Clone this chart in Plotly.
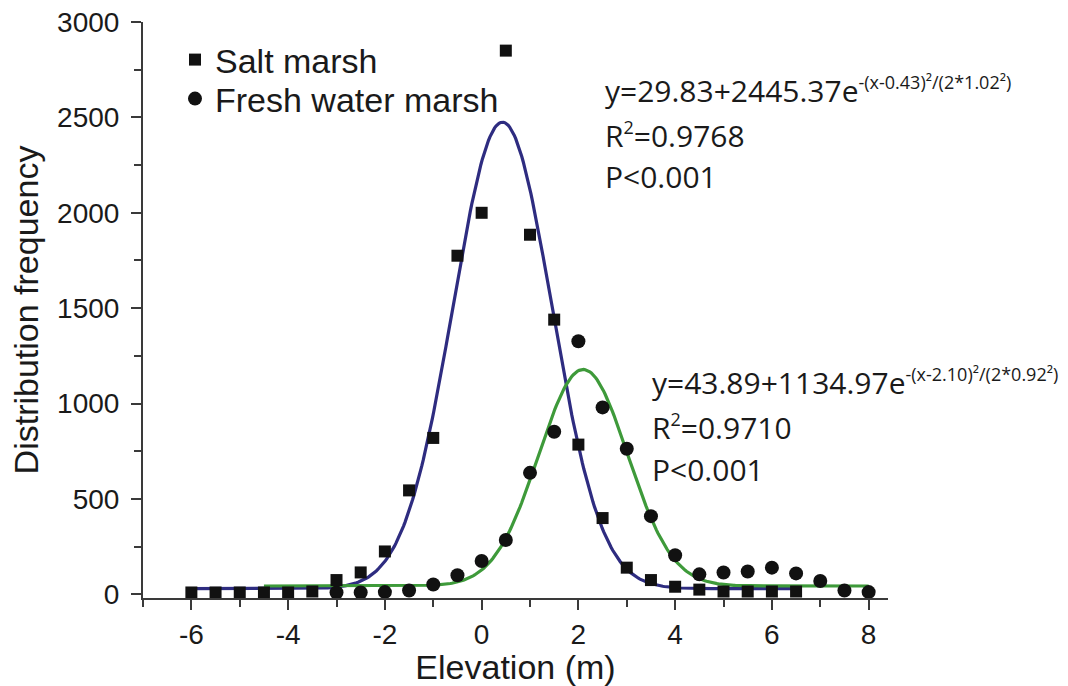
import numpy as np
import plotly.graph_objects as go

# ---- data ----
salt_x = [-6, -5.5, -5, -4.5, -4, -3.5, -3, -2.5, -2, -1.5, -1, -0.5, 0, 0.5, 1, 1.5, 2, 2.5, 3, 3.5, 4, 4.5, 5, 5.5, 6, 6.5]
salt_y = [10, 10, 10, 10, 10, 15, 75, 115, 225, 545, 820, 1775, 2000, 2850, 1885, 1440, 785, 400, 140, 75, 40, 25, 15, 15, 15, 15]

fresh_x = [-3, -2.5, -2, -1.5, -1, -0.5, 0, 0.5, 1, 1.5, 2, 2.5, 3, 3.5, 4, 4.5, 5, 5.5, 6, 6.5, 7, 7.5, 8]
fresh_y = [10, 10, 12, 20, 52, 100, 175, 285, 637, 852, 1327, 980, 763, 410, 205, 105, 115, 120, 140, 110, 70, 20, 12]

# Gaussian fit parameters printed on the chart: y = y0 + A*exp(-(x-xc)^2/(2*w^2))
salt_fit = dict(y0=29.83, A=2445.37, xc=0.43, w=1.02, xmin=-6.0, xmax=6.5)
fresh_fit = dict(y0=43.89, A=1134.97, xc=2.10, w=0.92, xmin=-4.5, xmax=8.0)

x_ticks = [-6, -4, -2, 0, 2, 4, 6, 8]
y_ticks = [0, 500, 1000, 1500, 2000, 2500, 3000]


def fit_curve(p):
    xs = np.linspace(p["xmin"], p["xmax"], 400)
    ys = p["y0"] + p["A"] * np.exp(-(xs - p["xc"]) ** 2 / (2 * p["w"] ** 2))
    return xs, ys


# plot area in pixels
L, R, T, B = 143, 888, 22, 598
W, H = 1068, 686


def px(x):
    return (x - L) / (R - L)


def py(y):
    return (B - y) / (B - T)


fig = go.Figure()

sx, sy = fit_curve(salt_fit)
fx, fy = fit_curve(fresh_fit)
fig.add_trace(go.Scatter(x=sx, y=sy, mode="lines", line=dict(color="#2e2c80", width=3.2),
                         showlegend=False, hoverinfo="skip", cliponaxis=False))
fig.add_trace(go.Scatter(x=fx, y=fy, mode="lines", line=dict(color="#3e9a3a", width=3.2),
                         showlegend=False, hoverinfo="skip", cliponaxis=False))
fig.add_trace(go.Scatter(x=fresh_x, y=fresh_y, mode="markers", name="Fresh water marsh",
                         marker=dict(symbol="circle", size=14, color="#111111"),
                         cliponaxis=False, legend="legend2"))
fig.add_trace(go.Scatter(x=salt_x, y=salt_y, mode="markers", name="Salt marsh",
                         marker=dict(symbol="square", size=12, color="#111111"),
                         cliponaxis=False, legend="legend"))

font_ax = "Liberation Sans, Arial, sans-serif"
font_ann = "Open Sans, sans-serif"

ann = []


def line(text, x, y, size=30):
    ann.append(dict(text=text, x=px(x), y=py(y), xref="paper", yref="paper",
                    xanchor="left", yanchor="middle", showarrow=False,
                    font=dict(family=font_ann, size=size, color="#1a1a1a")))


sup1 = "<sup><span style='font-size:18px'>-(x-0.43)²/(2*1.02²)</span></sup>"
sup2 = "<sup><span style='font-size:18px'>-(x-2.10)²/(2*0.92²)</span></sup>"
r2 = "R<sup><span style='font-size:18px'>2</span></sup>"
line("y=29.83+2445.37e" + sup1, 603, 91)
line(r2 + "=0.9768", 603, 135)
line("P&lt;0.001", 603, 176)
line("y=43.89+1134.97e" + sup2, 650, 382)
line(r2 + "=0.9710", 650, 427)
line("P&lt;0.001", 650, 469)

leg_common = dict(xanchor="left", yanchor="middle",
                  font=dict(family=font_ax, size=34, color="#1a1a1a"),
                  bgcolor="rgba(0,0,0,0)", itemwidth=30, borderwidth=0)

fig.update_layout(
    width=W, height=H,
    margin=dict(l=L, r=W - R, t=T, b=H - B, autoexpand=False),
    paper_bgcolor="white", plot_bgcolor="white",
    annotations=ann,
    legend=dict(x=px(175), y=py(60), **leg_common),
    legend2=dict(x=px(175), y=py(99), **leg_common),
    xaxis=dict(range=[-7, 8.4], tickvals=x_ticks, ticktext=[str(v) for v in x_ticks],
               showline=True, linecolor="#3a3a3a", linewidth=2, mirror=False,
               ticks="outside", ticklen=10, tickwidth=2, tickcolor="#3a3a3a",
               minor=dict(ticks="outside", ticklen=7, tickwidth=2, tickcolor="#3a3a3a", dtick=1, tick0=-7),
               showgrid=False, zeroline=False, automargin=False,
               tickfont=dict(family=font_ax, size=28, color="#1a1a1a"),
               title=dict(text="Elevation (m)", standoff=0,
                          font=dict(family=font_ax, size=34, color="#1a1a1a"))),
    yaxis=dict(range=[-19, 3000], tickvals=y_ticks, ticktext=[str(v) for v in y_ticks],
               showline=True, linecolor="#3a3a3a", linewidth=2,
               ticks="outside", ticklen=10, tickwidth=2, tickcolor="#3a3a3a",
               minor=dict(ticks="outside", ticklen=7, tickwidth=2, tickcolor="#3a3a3a", dtick=250, tick0=0),
               showgrid=False, zeroline=False, ticklabelstandoff=6, automargin=False,
               tickfont=dict(family=font_ax, size=28, color="#1a1a1a"),
               title=dict(text="Distribution frequency", standoff=8,
                          font=dict(family=font_ax, size=34, color="#1a1a1a"))),
)

fig.write_html("out.html")
